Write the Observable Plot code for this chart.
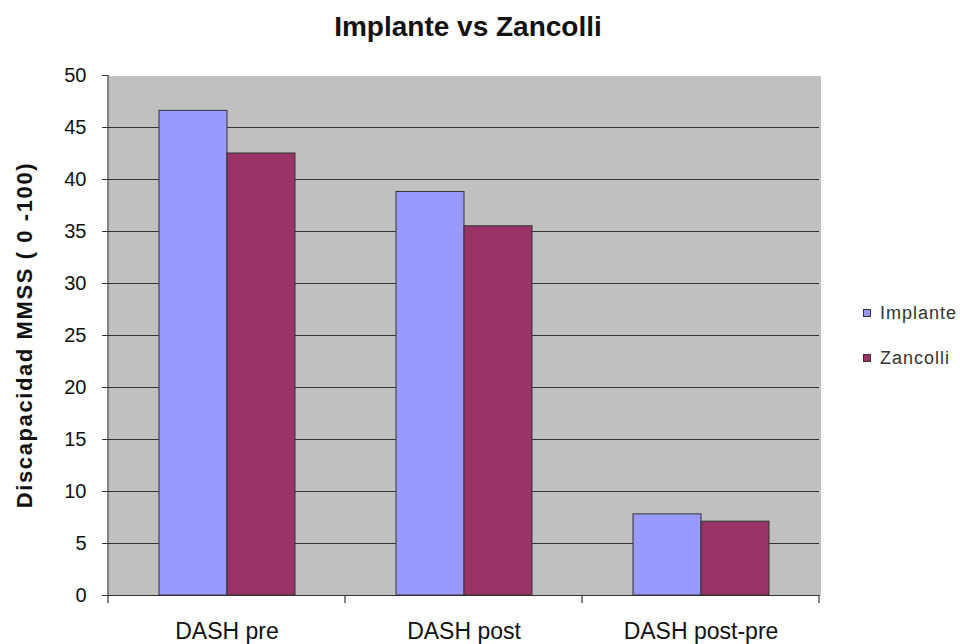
<!DOCTYPE html>
<html>
<head>
<meta charset="utf-8">
<script src="https://cdn.jsdelivr.net/npm/d3@7"></script>
<script src="https://cdn.jsdelivr.net/npm/@observablehq/plot@0.6"></script>
<style>
  body { margin: 0; background: #fff; font-family: "Liberation Sans", Arial, sans-serif; }
  #wrap { position: relative; width: 960px; height: 644px; overflow: hidden; }
  #title { height: 60px; box-sizing: border-box; padding-top: 13px; padding-right: 24px;
           text-align: center; font-weight: bold; font-size: 28px; line-height: 28px; color: #111; }
  #legend { position: absolute; left: 863px; top: 0; }
  .item { position: absolute; left: 0; display: flex; align-items: center; white-space: nowrap;
          font-size: 18px; line-height: 20px; letter-spacing: 1px; color: #333; }
  .sw { width: 6px; height: 6px; border: 1px solid #333; margin-right: 9px; }
  svg { display: block; }
</style>
</head>
<body>
<div id="wrap">
  <div id="title"></div>
  <div id="chart"></div>
  <div id="legend"></div>
</div>
<script>
const categories = ["DASH pre", "DASH post", "DASH post-pre"];
const seriesNames = ["Implante", "Zancolli"];
const implanteValues = [46.6, 38.8, 7.8];
const zancolliValues = [42.5, 35.5, 7.1];
const seriesColors = ["#9999FF", "#993366"];
const yTicks = [0, 5, 10, 15, 20, 25, 30, 35, 40, 45, 50];
const titleText = "Implante vs Zancolli";
const yLabel = "Discapacidad MMSS ( 0 -100)";
const legendCenters = [313, 358];

const data = categories.flatMap((c, i) => [
  {category: c, series: seriesNames[0], value: implanteValues[i]},
  {category: c, series: seriesNames[1], value: zancolliValues[i]}
]);

document.getElementById("title").textContent = titleText;

const chart = Plot.plot({
  width: 960,
  height: 584,
  marginTop: 15,
  marginBottom: 49,
  marginLeft: 108,
  marginRight: 141,
  style: {fontFamily: '"Liberation Sans", Arial, sans-serif', fontSize: "20px", color: "#111", background: "transparent", overflow: "visible"},
  fx: {domain: categories, padding: 0, label: null},
  x: {domain: seriesNames, paddingInner: 0, paddingOuter: 0.72, axis: null},
  y: {domain: [0, 50], label: null},
  color: {domain: seriesNames, range: seriesColors},
  marks: [
    Plot.frame({fill: "#C0C0C0", stroke: "none", shapeRendering: "crispEdges", insetRight: -1}),
    Plot.gridY(yTicks.filter(t => t > 0 && t < 50), {stroke: "#333", strokeOpacity: 1, strokeWidth: 1}),
    Plot.barY(data, {fx: "category", x: "series", y: "value", fill: "series", stroke: "#333", strokeWidth: 1, inset: 0}),
    Plot.ruleY([0], {stroke: "#333", strokeWidth: 1.2}),
    Plot.axisY(yTicks, {tickSize: 6, tickPadding: 16, fontSize: 20, label: null, stroke: "#333"}),
    Plot.axisFx({anchor: "bottom", tickSize: 0, tickPadding: 27, fontSize: 23, label: null})
  ]
});
document.getElementById("chart").appendChild(chart);

// axis line on the left and category boundary ticks, from the scales
const fx = chart.scale("fx");
const ys = chart.scale("y");
const svg = d3.select(chart);
const bw = fx.bandwidth;
const bounds = categories.map(c => fx.apply(c)).concat([fx.apply(categories[categories.length - 1]) + bw]);
const y0 = ys.apply(0), yTop = ys.apply(50);
svg.append("line").attr("x1", bounds[0]).attr("x2", bounds[0]).attr("y1", yTop).attr("y2", y0)
  .attr("stroke", "#333").attr("stroke-width", 1.2);
svg.append("g").selectAll("line").data(bounds).join("line")
  .attr("x1", d => d).attr("x2", d => d).attr("y1", y0).attr("y2", y0 + 8)
  .attr("stroke", "#333").attr("stroke-width", 1.2);
svg.append("text")
  .attr("transform", `translate(32,${(y0 + yTop) / 2}) rotate(-90)`)
  .attr("text-anchor", "middle")
  .attr("font-weight", "bold")
  .attr("font-size", 22)
  .attr("letter-spacing", 1.6)
  .attr("fill", "#111")
  .text(yLabel);

// legend
const legend = d3.select("#legend");
seriesNames.forEach((s, i) => {
  const item = legend.append("div").attr("class", "item").style("top", (legendCenters[i] - 10) + "px");
  item.append("div").attr("class", "sw").style("background", seriesColors[i]);
  item.append("span").text(s);
});
</script>
</body>
</html>
